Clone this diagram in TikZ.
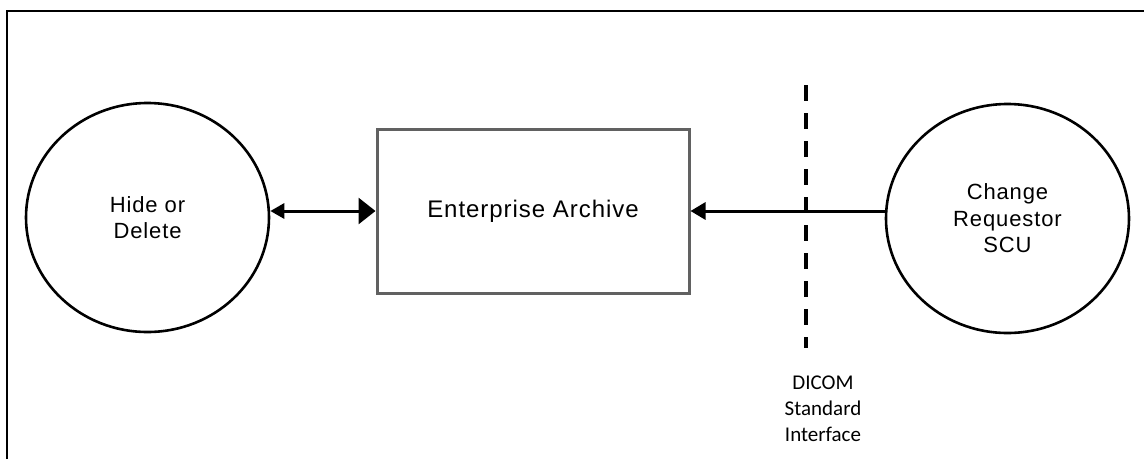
\documentclass[tikz,border=0pt]{standalone}
\usepackage{fontspec}
\setmainfont{Liberation Sans}[LetterSpace=4]
\newfontfamily\calib{Carlito}
\usetikzlibrary{shapes.geometric,arrows.meta}
\begin{document}
\begin{tikzpicture}[x=1pt,y=-1pt,
  bubble/.style={draw=black,line width=2.6pt,ellipse,minimum width=243pt,minimum height=229pt,inner sep=0pt,align=center,font=\fontsize{22}{26.5}\selectfont},
  archbox/.style={draw=black!62,line width=3pt,rectangle,minimum width=312pt,minimum height=164pt,inner sep=0pt,font=\fontsize{24}{28}\selectfont},
  conn/.style={line width=3pt},
  frameline/.style={line width=2.6pt,black}]
\useasboundingbox (0,0) rectangle (1144,459);
\coordinate (fl) at (7,459);
\coordinate (fc) at (7,11);
\coordinate (fr) at (1144,11);
\draw[frameline] (fl) -- (fc) -- (fr);
\node[bubble] (hide) at (147.5,217.5) {Hide or\\Delete};
\node[archbox] (arch) at (533,211) {Enterprise Archive};
\node[bubble] (req) at (1007.5,218.5) {Change\\Requestor\\SCU};
\coordinate (dtop) at (806,85);
\coordinate (dbot) at (806,348);
\draw[line width=3.2pt,dash pattern=on 16pt off 12pt] (dtop) -- (dbot);
\draw[conn,{Triangle[length=14pt,width=15pt]}-{Triangle[length=17pt,width=26pt]}] (arch.west -| hide.east) -- (arch.west);
\draw[conn,-{Triangle[length=15pt,width=17pt]}] (arch.east -| req.west) -- (arch.east);
\node[font=\calib\fontsize{21}{26.3}\selectfont,align=center,anchor=north] (dicom) at (823,372) {DICOM\\Standard\\Interface};
\end{tikzpicture}
\end{document}
